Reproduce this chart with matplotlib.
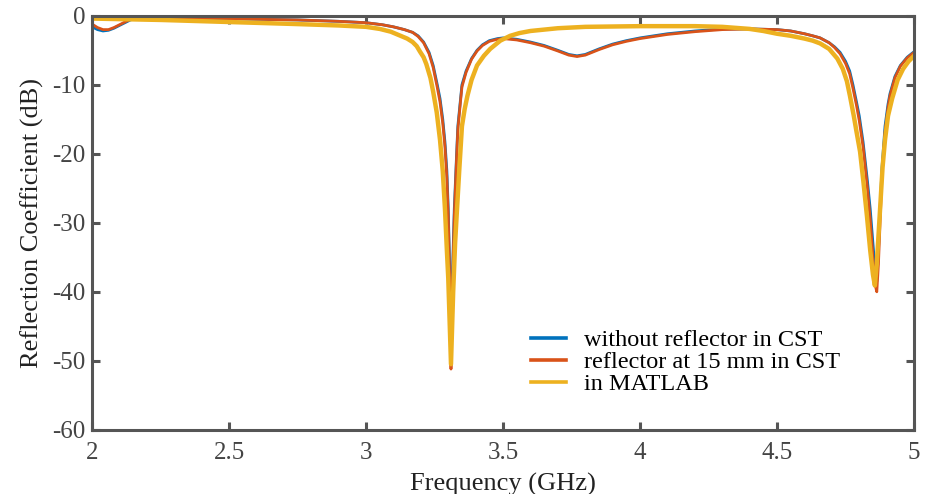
import numpy as np
import matplotlib.pyplot as plt

# (GHz, dB)
f_cst = [2.00, 2.02, 2.04, 2.06, 2.08, 2.11, 2.14, 2.17, 2.22, 2.30, 2.40, 2.50,
         2.60, 2.75, 2.90, 3.00, 3.06, 3.10, 3.14, 3.17, 3.19, 3.21, 3.23, 3.245,
         3.26, 3.27, 3.28, 3.288, 3.295, 3.30, 3.305, 3.31, 3.315, 3.322, 3.33, 3.335,
         3.345, 3.35, 3.365, 3.385, 3.405, 3.425, 3.45, 3.48, 3.50, 3.55, 3.60, 3.65,
         3.70, 3.74, 3.77, 3.80, 3.85, 3.90, 3.95, 4.00, 4.05, 4.10, 4.20, 4.30,
         4.40, 4.50, 4.55, 4.60, 4.63, 4.657, 4.69, 4.71, 4.73, 4.75, 4.765, 4.777,
         4.79, 4.80, 4.814, 4.83, 4.84, 4.85, 4.858, 4.864, 4.870, 4.876, 4.883, 4.894,
         4.905, 4.912, 4.93, 4.95, 4.975, 5.00]
s11_no_reflector = [-1.6, -2.0, -2.2, -2.1, -1.8, -1.2, -0.6, -0.3, -0.2, -0.3, -0.35, -0.4,
                    -0.5, -0.6, -0.8, -1.0, -1.3, -1.6, -2.0, -2.4, -2.9, -3.8, -5.3, -7.2,
                    -10.0, -12.0, -15.0, -18.3, -22.5, -28.0, -36.0, -50.5, -38.0, -28.0, -20.5, -16.0,
                    -12.0, -10.0, -8.0, -6.2, -5.0, -4.2, -3.6, -3.3, -3.2, -3.4, -3.8, -4.3,
                    -5.0, -5.6, -5.8, -5.6, -4.8, -4.1, -3.6, -3.2, -2.9, -2.6, -2.2, -1.9,
                    -1.9, -2.0, -2.2, -2.6, -2.9, -3.2, -3.9, -4.5, -5.3, -6.6, -8.0, -10.0,
                    -12.5, -14.5, -18.3, -24.0, -28.0, -33.0, -37.0, -38.5, -34.0, -28.0, -22.0, -16.0,
                    -12.8, -11.3, -8.8, -7.2, -6.0, -5.2]
s11_reflector_15mm = [-1.2, -1.7, -2.0, -2.0, -1.7, -1.1, -0.5, -0.2, -0.2, -0.3, -0.35, -0.4,
                      -0.5, -0.6, -0.8, -1.0, -1.3, -1.6, -2.0, -2.4, -3.0, -3.9, -5.5, -7.5,
                      -10.4, -12.5, -15.6, -19.0, -23.5, -29.0, -37.5, -51.2, -39.5, -29.0, -21.0, -16.5,
                      -12.3, -10.3, -8.2, -6.3, -5.1, -4.3, -3.7, -3.4, -3.3, -3.5, -3.9, -4.4,
                      -5.1, -5.7, -5.9, -5.7, -4.9, -4.2, -3.7, -3.3, -3.0, -2.7, -2.3, -2.0,
                      -1.9, -2.0, -2.2, -2.6, -2.9, -3.2, -3.9, -4.6, -5.5, -6.9, -8.4, -10.5,
                      -13.0, -15.2, -19.0, -25.0, -29.5, -35.0, -39.0, -40.0, -36.0, -30.0, -23.0, -16.8,
                      -13.3, -11.6, -9.0, -7.3, -6.1, -5.3]

f_matlab = [2.00, 2.25, 2.50, 2.75, 2.90, 3.00, 3.05, 3.09, 3.12, 3.15, 3.17, 3.185,
            3.197, 3.21, 3.22, 3.235, 3.245, 3.258, 3.27, 3.28, 3.288, 3.295, 3.30, 3.31,
            3.318, 3.325, 3.332, 3.34, 3.35, 3.36, 3.37, 3.385, 3.405, 3.43, 3.453, 3.49,
            3.526, 3.56, 3.60, 3.70, 3.80, 4.00, 4.20, 4.30, 4.40, 4.45, 4.50, 4.55,
            4.60, 4.63, 4.657, 4.69, 4.72, 4.74, 4.755, 4.766, 4.78, 4.79, 4.803, 4.815,
            4.828, 4.84, 4.85, 4.857, 4.864, 4.870, 4.876, 4.885, 4.894, 4.905, 4.92, 4.94,
            4.96, 4.98, 5.00]
s11_matlab = [-0.4, -0.6, -0.9, -1.2, -1.4, -1.6, -1.9, -2.3, -2.8, -3.3, -3.8, -4.4,
              -5.2, -6.0, -7.0, -9.0, -11.0, -14.0, -18.0, -22.5, -28.0, -34.0, -38.0, -50.5,
              -40.0, -33.0, -28.0, -22.5, -16.0, -13.5, -11.6, -9.3, -7.2, -5.8, -4.8, -3.6,
              -2.9, -2.5, -2.2, -1.8, -1.6, -1.5, -1.5, -1.6, -1.9, -2.2, -2.6, -2.9,
              -3.3, -3.6, -4.0, -4.8, -6.2, -7.7, -9.5, -11.6, -14.5, -16.8, -19.7, -24.0,
              -29.0, -34.0, -37.5, -39.1, -36.0, -32.0, -28.0, -22.0, -18.0, -14.5, -12.0, -9.3,
              -7.7, -6.6, -5.8]

labels = ['without reflector in CST', 'reflector at 15 mm in CST', 'in MATLAB']

plt.rcParams['font.family'] = ['Liberation Serif', 'DejaVu Serif']
plt.rcParams['axes.unicode_minus'] = False
axc = '#555555'

fig = plt.figure(figsize=(9.26, 4.94), dpi=100)
ax = fig.add_axes([0.0994, 0.130, 0.8877, 0.838])

ax.plot(f_cst, s11_no_reflector, color='#0072BD', lw=2.0, label=labels[0])
ax.plot(f_cst, s11_reflector_15mm, color='#D95319', lw=2.0, label=labels[1])
ax.plot(f_matlab, s11_matlab, color='#EDB120', lw=3.2, label=labels[2])

ax.set_xlim(2, 5)
ax.set_ylim(-60, 0)
ax.set_xticks([2, 2.5, 3, 3.5, 4, 4.5, 5])
ax.set_xticklabels(['2', '2.5', '3', '3.5', '4', '4.5', '5'])
ax.set_yticks([0, -10, -20, -30, -40, -50, -60])

for s in ax.spines.values():
    s.set_color(axc)
    s.set_linewidth(2.2)
ax.tick_params(direction='in', length=6, width=2.2, color=axc, labelcolor='#444444',
               labelsize=18, top=True, right=True)
ax.tick_params(axis='x', pad=9)
ax.tick_params(axis='y', pad=5)

ax.set_xlabel('Frequency (GHz)', fontsize=19, color='#222222', labelpad=6)
ax.set_ylabel('Reflection Coefficient (dB)', fontsize=19, color='#222222', labelpad=6)

leg = ax.legend(loc='lower right', bbox_to_anchor=(0.937, 0.03), frameon=False,
                fontsize=17.5, handlelength=1.45, handletextpad=0.75, labelspacing=0.0)
for h in leg.get_lines():
    h.set_linewidth(2.6)

fig.savefig('out.png', dpi=100)
